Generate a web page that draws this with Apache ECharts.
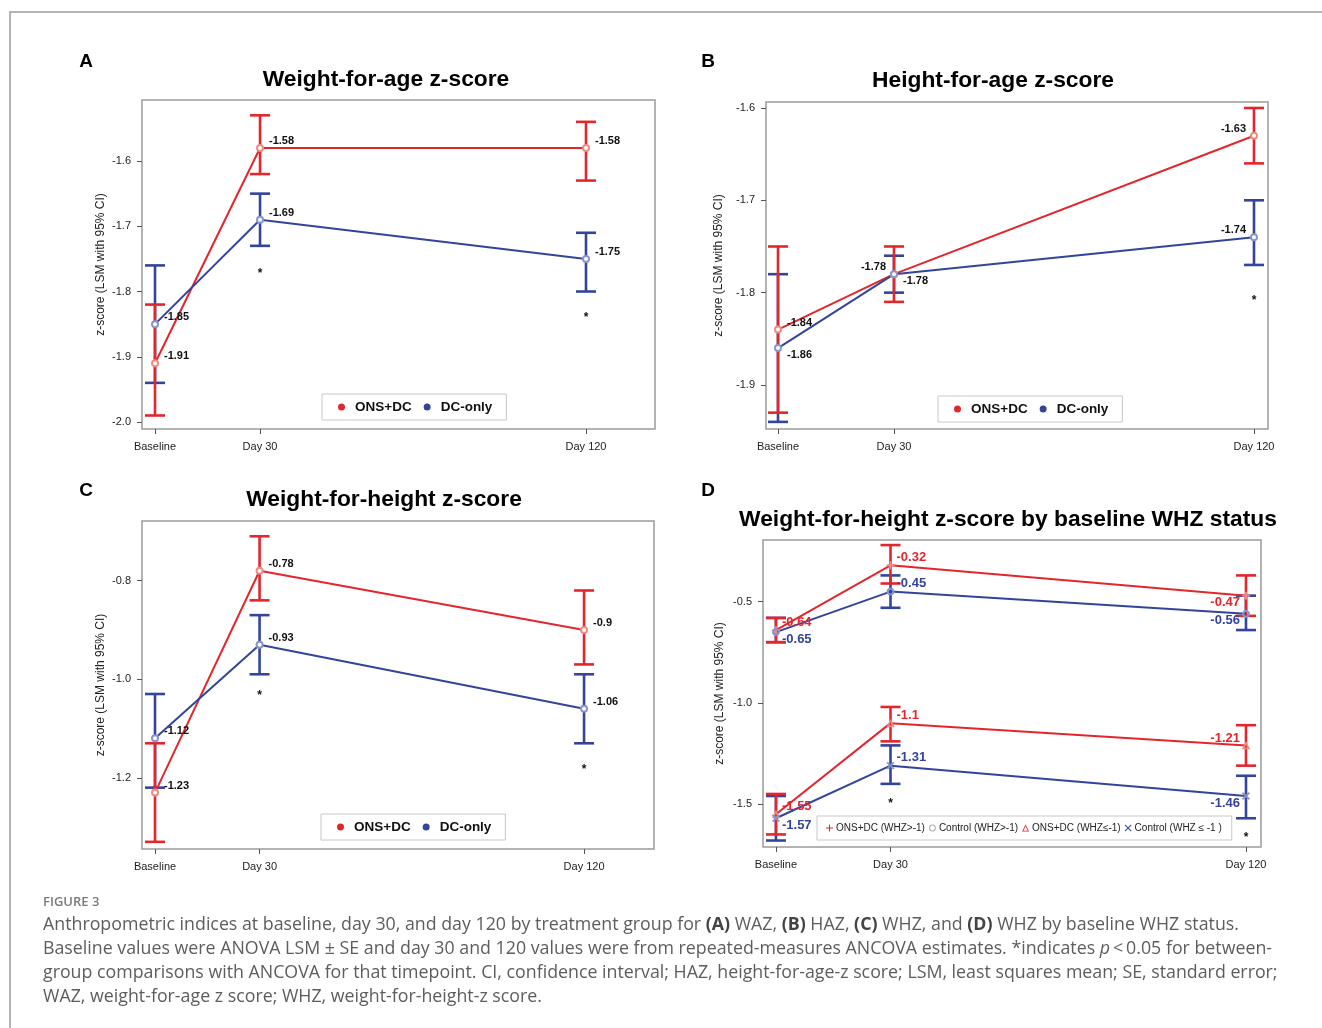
<!DOCTYPE html>
<html>
<head>
<meta charset="utf-8">
<title>Figure 3</title>
<script src="https://cdn.jsdelivr.net/npm/echarts@6/dist/echarts.min.js"></script>
<style>
  html, body { margin: 0; padding: 0; background: #fff; }
  #chart { width: 1322px; height: 1028px; }
</style>
</head>
<body>
<div id="chart"></div>
<script>
// time points (days) and their tick labels
const dayValues = [1, 30, 120];
const dayLabels = ['Baseline', 'Day 30', 'Day 120'];

// A: weight-for-age z-score
const wazTicks = [-2.0, -1.9, -1.8, -1.7, -1.6];
const wazOnsMean = [-1.91, -1.58, -1.58];
const wazOnsLow = [-1.99, -1.62, -1.63];
const wazOnsHigh = [-1.82, -1.53, -1.54];
const wazDcMean = [-1.85, -1.69, -1.75];
const wazDcLow = [-1.94, -1.73, -1.80];
const wazDcHigh = [-1.76, -1.65, -1.71];
const wazStars = [[30, -1.768], [120, -1.836]];

// B: height-for-age z-score
const hazTicks = [-1.9, -1.8, -1.7, -1.6];
const hazOnsMean = [-1.84, -1.78, -1.63];
const hazOnsLow = [-1.93, -1.81, -1.66];
const hazOnsHigh = [-1.75, -1.75, -1.60];
const hazDcMean = [-1.86, -1.78, -1.74];
const hazDcLow = [-1.94, -1.80, -1.77];
const hazDcHigh = [-1.78, -1.76, -1.70];
const hazStars = [[120, -1.805]];

// C: weight-for-height z-score
const whzTicks = [-1.2, -1.0, -0.8];
const whzOnsMean = [-1.23, -0.78, -0.9];
const whzOnsLow = [-1.33, -0.84, -0.97];
const whzOnsHigh = [-1.13, -0.71, -0.82];
const whzDcMean = [-1.12, -0.93, -1.06];
const whzDcLow = [-1.22, -0.99, -1.13];
const whzDcHigh = [-1.03, -0.87, -0.99];
const whzStars = [[30, -1.028], [120, -1.178]];

// D: weight-for-height z-score by baseline WHZ status
const statTicks = [-1.5, -1.0, -0.5];
const onsHiMean = [-0.64, -0.32, -0.47];
const onsHiLow = [-0.70, -0.41, -0.57];
const onsHiHigh = [-0.58, -0.22, -0.37];
const ctlHiMean = [-0.65, -0.45, -0.56];
const ctlHiLow = [-0.70, -0.53, -0.64];
const ctlHiHigh = [-0.58, -0.37, -0.47];
const onsLoMean = [-1.55, -1.1, -1.21];
const onsLoLow = [-1.65, -1.19, -1.31];
const onsLoHigh = [-1.45, -1.02, -1.11];
const ctlLoMean = [-1.57, -1.31, -1.46];
const ctlLoLow = [-1.68, -1.40, -1.57];
const ctlLoHigh = [-1.46, -1.21, -1.36];
const statStars = [[30, -1.485], [120, -1.652]];

const RED = '#e3262c';
const BLUE = '#33449a';
const RED_PT = '#f08a84';
const BLUE_PT = '#8795cc';
const FONT = 'Liberation Sans, Arial, sans-serif';

const PLUS = 'path://M4.3,0H5.7V4.3H10V5.7H5.7V10H4.3V5.7H0V4.3H4.3Z';
const CROSS = 'path://M1,0L5,4L9,0L10,1L6,5L10,9L9,10L5,6L1,10L0,9L4,5L0,1Z';
const TRI = 'path://M5,0L10,10L0,10Z M5,2.6L1.9,8.9L8.1,8.9Z';
const RING = 'path://M5,0A5,5,0,1,1,4.99,0Z M5,1.6A3.4,3.4,0,1,0,5.01,1.6Z';

// label placements
const rUp = { position: 'right', distance: 5, offset: [0, -7] };
const rDn = { position: 'right', distance: 5, offset: [0, 7] };
const lUp = { position: 'left', distance: 4, offset: [0, -7] };
const rUpD = { position: 'right', distance: 2, offset: [0, -8] };
const rDnD = { position: 'right', distance: 2, offset: [0, 7] };
const lDnD = { position: 'left', distance: 2, offset: [0, 7] };
const lUpD = { position: 'left', distance: 2, offset: [0, -7] };

const panels = [
  { grid: { left: 142, top: 100, width: 513, height: 329 }, x: [-2.59, 139.05], y: [-2.0107, -1.5065], ticks: wazTicks, nameGap: 35,
    stars: wazStars, big: false,
    series: [
      { name: 'ONS+DC', mean: wazOnsMean, low: wazOnsLow, high: wazOnsHigh, color: RED, pt: RED_PT, symbol: 'emptyCircle', places: [rUp, rUp, rUp] },
      { name: 'DC-only', mean: wazDcMean, low: wazDcLow, high: wazDcHigh, color: BLUE, pt: BLUE_PT, symbol: 'emptyCircle', places: [rUp, rUp, rUp] }
    ] },
  { grid: { left: 766, top: 102, width: 502, height: 327 }, x: [-2, 123.5], y: [-1.9477, -1.5935], ticks: hazTicks, nameGap: 41,
    stars: hazStars, big: false,
    series: [
      { name: 'ONS+DC', mean: hazOnsMean, low: hazOnsLow, high: hazOnsHigh, color: RED, pt: RED_PT, symbol: 'emptyCircle', places: [rUp, lUp, lUp] },
      { name: 'DC-only', mean: hazDcMean, low: hazDcLow, high: hazDcHigh, color: BLUE, pt: BLUE_PT, symbol: 'emptyCircle', places: [rDn, rDn, lUp] }
    ] },
  { grid: { left: 142, top: 521, width: 512, height: 328 }, x: [-2.61, 139.4], y: [-1.3445, -0.679], ticks: whzTicks, nameGap: 35,
    stars: whzStars, big: false,
    series: [
      { name: 'ONS+DC', mean: whzOnsMean, low: whzOnsLow, high: whzOnsHigh, color: RED, pt: RED_PT, symbol: 'emptyCircle', places: [rUp, rUp, rUp] },
      { name: 'DC-only', mean: whzDcMean, low: whzDcLow, high: whzDcHigh, color: BLUE, pt: BLUE_PT, symbol: 'emptyCircle', places: [rUp, rUp, rUp] }
    ] },
  { grid: { left: 763, top: 540, width: 498, height: 307 }, x: [-2.28, 123.8], y: [-1.712, -0.195], ticks: statTicks, nameGap: 37,
    stars: statStars, big: true,
    series: [
      { name: 'ONS+DC (WHZ>-1)', mean: onsHiMean, low: onsHiLow, high: onsHiHigh, color: RED, pt: RED_PT, symbol: PLUS, places: [rUpD, rUpD, lDnD] },
      { name: 'Control (WHZ>-1)', mean: ctlHiMean, low: ctlHiLow, high: ctlHiHigh, color: BLUE, pt: BLUE_PT, symbol: RING, places: [rDnD, rUpD, lDnD] },
      { name: 'ONS+DC (WHZ\u2264-1)', mean: onsLoMean, low: onsLoLow, high: onsLoHigh, color: RED, pt: RED_PT, symbol: TRI, places: [rUpD, rUpD, lUpD] },
      { name: 'Control (WHZ \u2264 -1 )', mean: ctlLoMean, low: ctlLoLow, high: ctlLoHigh, color: BLUE, pt: BLUE_PT, symbol: CROSS, places: [rDnD, rUpD, lDnD] }
    ] }
];

const grids = [], xAxes = [], yAxes = [], series = [];

panels.forEach(function (p, gi) {
  grids.push(Object.assign({ show: true, borderColor: '#9b9b9b', borderWidth: 1.5, containLabel: false }, p.grid));
  xAxes.push({
    type: 'value', gridIndex: gi, min: p.x[0], max: p.x[1],
    axisLine: { show: false, onZero: false }, splitLine: { show: false },
    axisTick: { show: true, inside: false, customValues: dayValues, length: 5, lineStyle: { color: '#555' } },
    axisLabel: { customValues: dayValues, color: '#222', fontSize: 11, fontFamily: FONT, margin: 12,
      formatter: function (v) { return dayLabels[dayValues.indexOf(v)]; } }
  });
  yAxes.push({
    type: 'value', gridIndex: gi, min: p.y[0], max: p.y[1],
    axisLine: { show: false, onZero: false }, splitLine: { show: false },
    axisTick: { show: true, inside: false, customValues: p.ticks, length: 5, lineStyle: { color: '#555' } },
    axisLabel: { customValues: p.ticks, color: '#222', fontSize: 11, fontFamily: FONT, margin: 11,
      formatter: function (v) { return v.toFixed(1); } },
    name: 'z-score (LSM with 95% CI)', nameLocation: 'middle', nameGap: p.nameGap,
    nameTextStyle: { color: '#222', fontSize: 12, fontFamily: FONT }
  });

  // error bars, blue first so red sits on top
  p.series.slice().reverse().forEach(function (s) {
    series.push({
      type: 'custom', xAxisIndex: gi, yAxisIndex: gi, silent: true, z: 2,
      data: dayValues.map(function (d, i) { return [d, s.low[i], s.high[i]]; }),
      encode: { x: 0, y: [1, 2] },
      renderItem: function (params, api) {
        const x = api.value(0);
        const a = api.coord([x, api.value(1)]);
        const b = api.coord([x, api.value(2)]);
        const hw = 10;
        const st = { stroke: s.color, lineWidth: 2.6 };
        return { type: 'group', children: [
          { type: 'line', shape: { x1: a[0], y1: a[1], x2: b[0], y2: b[1] }, style: st },
          { type: 'line', shape: { x1: a[0] - hw, y1: a[1], x2: a[0] + hw, y2: a[1] }, style: st },
          { type: 'line', shape: { x1: b[0] - hw, y1: b[1], x2: b[0] + hw, y2: b[1] }, style: st }
        ] };
      }
    });
  });

  p.series.forEach(function (s) {
    series.push({
      name: s.name, type: 'line', xAxisIndex: gi, yAxisIndex: gi, z: 3,
      symbol: s.symbol, symbolSize: p.big ? 7 : 6, showSymbol: true,
      lineStyle: { color: s.color, width: 2 },
      itemStyle: { color: s.pt, borderColor: s.pt, borderWidth: 1 },
      emphasis: { disabled: true },
      label: {
        show: true,
        color: p.big ? s.color : '#111',
        fontSize: p.big ? 13 : 11,
        fontWeight: 'bold',
        fontFamily: FONT,
        formatter: function (prm) { return String(prm.value[1]); }
      },
      data: dayValues.map(function (d, i) {
        return { value: [d, s.mean[i]], label: s.places[i] };
      })
    });
  });

  series.push({
    type: 'custom', xAxisIndex: gi, yAxisIndex: gi, silent: true, z: 4,
    data: p.stars,
    renderItem: function (params, api) {
      const c = api.coord([api.value(0), api.value(1)]);
      return { type: 'text', x: c[0], y: c[1] + 3,
        style: { text: '*', fill: '#111', font: 'bold 12px ' + FONT, align: 'center', verticalAlign: 'middle', textAlign: 'center', textVerticalAlign: 'middle' } };
    }
  });
});

const legendBase = {
  orient: 'horizontal', borderColor: '#c8c8c8', borderWidth: 1, backgroundColor: '#fff',
  itemWidth: 7, itemHeight: 7, itemGap: 12, selectedMode: false,
  textStyle: { color: '#111', fontWeight: 'bold', fontSize: 13.5, fontFamily: FONT, padding: [0, 0, 0, 5] }
};
const twoItems = [
  { name: 'ONS+DC', icon: 'circle', itemStyle: { color: RED, borderWidth: 0 } },
  { name: 'DC-only', icon: 'circle', itemStyle: { color: BLUE, borderWidth: 0 } }
];
const legends = [
  Object.assign({}, legendBase, { left: 322, top: 394, padding: [6, 14, 6, 16], data: twoItems }),
  Object.assign({}, legendBase, { left: 938, top: 396, padding: [6, 14, 6, 16], data: twoItems }),
  Object.assign({}, legendBase, { left: 321, top: 814, padding: [6, 14, 6, 16], data: twoItems }),
  Object.assign({}, legendBase, {
    left: 817, top: 816, padding: [7, 10, 7, 9], itemGap: 4, itemWidth: 7, itemHeight: 7,
    textStyle: { color: '#222', fontSize: 10, fontFamily: FONT, padding: [0, 0, 0, -2] },
    data: panels[3].series.map(function (s, i) {
      return { name: s.name, icon: s.symbol,
        itemStyle: { color: i === 1 ? '#b0b0b0' : s.color, borderWidth: 0 } };
    })
  })
];

function txt(x, y, text, font, fill, align, rich) {
  const style = { text: text, font: font, fill: fill, align: align || 'left', verticalAlign: 'middle',
    textAlign: align || 'left', textVerticalAlign: 'middle' };
  if (rich) style.rich = rich;
  return { type: 'text', x: x, y: y, style: style, silent: true };
}

const CAP_FAMILY = '"Open Sans", Lato, sans-serif';
const CAP_SIZE = 17.8;
const CAP_FONT = CAP_SIZE + 'px ' + CAP_FAMILY;
const capRich = {
  b: { fontFamily: CAP_FAMILY, fontSize: CAP_SIZE, fontWeight: 'bold', fill: '#444', color: '#444' },
  i: { fontFamily: CAP_FAMILY, fontSize: CAP_SIZE, fontStyle: 'italic', fill: '#5d5d5d', color: '#5d5d5d' }
};
const captionLines = [
  'Anthropometric indices at baseline, day 30, and day 120 by treatment group for {b|(A)} WAZ, {b|(B)} HAZ, {b|(C)} WHZ, and {b|(D)} WHZ by baseline WHZ status.',
  'Baseline values were ANOVA LSM \u00b1 SE and day 30 and 120 values were from repeated-measures ANCOVA estimates. *indicates {i|p}\u2009<\u20090.05 for between-',
  'group comparisons with ANCOVA for that timepoint. CI, confidence interval; HAZ, height-for-age-z score; LSM, least squares mean; SE, standard error;',
  'WAZ, weight-for-age z score; WHZ, weight-for-height-z score.'
];

const graphics = [
  { type: 'rect', shape: { x: 10, y: 12, width: 1340, height: 1040 }, style: { fill: 'none', stroke: '#9c9c9c', lineWidth: 1.5 }, silent: true },
  txt(86, 62, 'A', 'bold 19px ' + FONT, '#000', 'center'),
  txt(708, 62, 'B', 'bold 19px ' + FONT, '#000', 'center'),
  txt(86, 491, 'C', 'bold 19px ' + FONT, '#000', 'center'),
  txt(708, 491, 'D', 'bold 19px ' + FONT, '#000', 'center'),
  txt(386, 80, 'Weight-for-age z-score', 'bold 22.8px ' + FONT, '#000', 'center'),
  txt(993, 81, 'Height-for-age z-score', 'bold 22.8px ' + FONT, '#000', 'center'),
  txt(384, 500, 'Weight-for-height z-score', 'bold 22.8px ' + FONT, '#000', 'center'),
  txt(1008, 520, 'Weight-for-height z-score by baseline WHZ status', 'bold 22.8px ' + FONT, '#000', 'center'),
  txt(43, 902, 'FIGURE 3', '600 13px ' + CAP_FAMILY, '#7a7a7a', 'left')
];
captionLines.forEach(function (line, i) {
  graphics.push(txt(43, 925 + i * 24, line, CAP_FONT, '#5d5d5d', 'left', capRich));
});

const chart = echarts.init(document.getElementById('chart'), null, { renderer: 'canvas' });
chart.setOption({
  animation: false,
  backgroundColor: '#fff',
  grid: grids,
  xAxis: xAxes,
  yAxis: yAxes,
  legend: legends,
  series: series,
  graphic: graphics
});
</script>
</body>
</html>
